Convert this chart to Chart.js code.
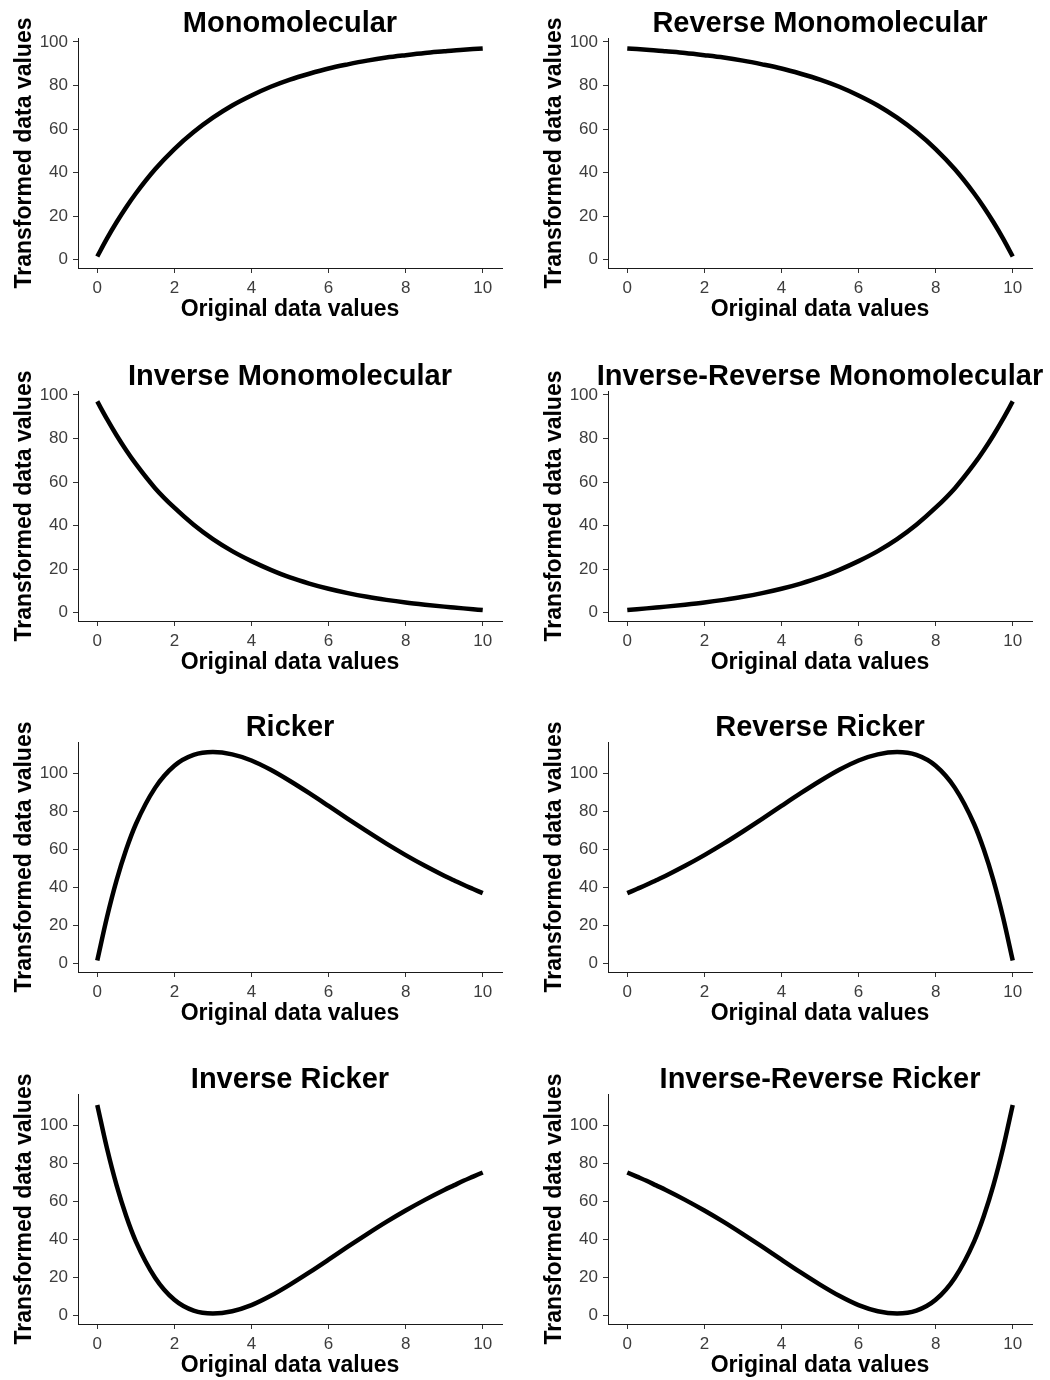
<!DOCTYPE html>
<html><head><meta charset="utf-8">
<script src="https://cdn.jsdelivr.net/npm/chart.js@4.4.1/dist/chart.umd.min.js"></script>
<style>
html,body{margin:0;padding:0;background:#fff;}
#wrap{position:relative;width:1050px;height:1380px;overflow:hidden;background:#fff;}
canvas{position:absolute;}
</style></head><body><div id="wrap"></div>
<script>
// ---- data ----
const xValues = [0,0.25,0.5,0.75,1,1.5,2,2.5,3,3.5,4,4.5,5,5.5,6,6.5,7,7.5,8,8.5,9,9.25,9.5,9.75,10];
const monomolecular = [1.5,9.7,17.2,24.1,30.4,41.5,50.8,58.6,65.2,70.8,75.4,79.4,82.7,85.4,87.8,89.7,91.4,92.8,93.9,94.9,95.7,96.1,96.4,96.7,97.0];
const reverseMonomolecular = [97.0,96.7,96.4,96.1,95.7,94.9,93.9,92.8,91.4,89.7,87.8,85.4,82.7,79.4,75.4,70.8,65.2,58.6,50.8,41.5,30.4,24.1,17.2,9.7,1.5];
const inverseMonomolecular = [97.0,89.0,81.5,74.6,68.3,57.2,48.2,40.4,33.8,28.3,23.7,19.7,16.2,13.4,11.0,9.0,7.3,5.9,4.7,3.7,2.8,2.4,2.0,1.6,1.2];
const inverseReverseMonomolecular = [1.2,1.6,2.0,2.4,2.8,3.7,4.7,5.9,7.3,9.0,11.0,13.4,16.2,19.7,23.7,28.3,33.8,40.4,48.2,57.2,68.3,74.6,81.5,89.0,97.0];
const ricker = [1.5,24.1,43.6,59.8,73.1,92.2,103.8,109.5,111.0,109.8,106.6,101.7,95.8,89.4,82.7,75.9,69.3,62.9,56.9,51.3,46.1,43.7,41.3,39.1,36.9];
const reverseRicker = [36.9,39.1,41.3,43.7,46.1,51.3,56.9,62.9,69.3,75.9,82.7,89.4,95.8,101.7,106.6,109.8,111.0,109.5,103.8,92.2,73.1,59.8,43.6,24.1,1.5];
const inverseRicker = [110.5,87.9,68.4,52.2,38.9,19.8,8.2,2.5,1.0,2.2,5.4,10.3,16.2,22.6,29.3,36.1,42.7,49.1,55.1,60.7,65.9,68.3,70.7,72.9,75.1];
const inverseReverseRicker = [75.1,72.9,70.7,68.3,65.9,60.7,55.1,49.1,42.7,36.1,29.3,22.6,16.2,10.3,5.4,2.2,1.0,2.5,8.2,19.8,38.9,52.2,68.4,87.9,110.5];

const panelTitles = ['Monomolecular','Reverse Monomolecular','Inverse Monomolecular','Inverse-Reverse Monomolecular','Ricker','Reverse Ricker','Inverse Ricker','Inverse-Reverse Ricker'];
const panelSeries = [monomolecular, reverseMonomolecular, inverseMonomolecular, inverseReverseMonomolecular, ricker, reverseRicker, inverseRicker, inverseReverseRicker];
const xTicks = [0,2,4,6,8,10];
const yTicks = [0,20,40,60,80,100];
const xAxisTitle = 'Original data values';
const yAxisTitle = 'Transformed data values';
const xRange = [-0.5, 10.5];
const yRangeMono = [-3.8, 101.8];
const yRangeRicker = [-4.5, 116.3];
const panelRanges = [yRangeMono, yRangeMono, yRangeMono, yRangeMono, yRangeRicker, yRangeRicker, yRangeRicker, yRangeRicker];

// ---- layout ----
const colLeft = [0, 530];
const rowTop = [0, 353, 704, 1056];
const FONT = '"Liberation Sans", Arial, Helvetica, sans-serif';

const titlesPlugin = {
  id: 'panelTitles',
  afterDraw(chart, args, opts) {
    const {ctx, chartArea: a} = chart;
    const cx = (a.left + a.right) / 2;
    ctx.save();
    ctx.fillStyle = '#000';
    ctx.textAlign = 'center';
    ctx.textBaseline = 'alphabetic';
    ctx.font = 'bold 29px ' + FONT;
    ctx.fillText(opts.title, cx, 32);
    ctx.font = 'bold 23px ' + FONT;
    ctx.fillText(opts.xTitle, cx, a.bottom + 48);
    ctx.translate(31, (a.top + a.bottom) / 2);
    ctx.rotate(-Math.PI / 2);
    ctx.fillText(opts.yTitle, 0, 0);
    ctx.restore();
  }
};

const wrap = document.getElementById('wrap');
panelTitles.forEach((title, i) => {
  const cv = document.createElement('canvas');
  cv.width = 520; cv.height = 324;
  cv.style.left = colLeft[i % 2] + 'px';
  cv.style.top = rowTop[Math.floor(i / 2)] + 'px';
  cv.style.width = '520px'; cv.style.height = '324px';
  wrap.appendChild(cv);
  const ys = panelSeries[i];
  const range = panelRanges[i];
  const axisCommon = {
    type: 'linear',
    grid: {display: true, drawOnChartArea: false, drawTicks: true, tickLength: 5, color: '#333333', lineWidth: 1},
    border: {display: true, color: '#1a1a1a', width: 1},
    ticks: {color: '#3d3d3d', font: {family: FONT, size: 17}, padding: 5, maxRotation: 0, autoSkip: false}
  };
  new Chart(cv, {
    type: 'line',
    data: {
      datasets: [{
        data: xValues.map((x, k) => ({x: x, y: ys[k]})),
        borderColor: '#000', borderWidth: 4.5, pointRadius: 0, pointHoverRadius: 0,
        cubicInterpolationMode: 'monotone', fill: false, borderCapStyle: 'butt'
      }]
    },
    options: {
      responsive: false, animation: false, devicePixelRatio: 1,
      layout: {padding: {left: 0, top: 38, right: 18, bottom: 0}},
      plugins: {
        legend: {display: false}, tooltip: {enabled: false}, title: {display: false},
        panelTitles: {title: title, xTitle: xAxisTitle, yTitle: yAxisTitle}
      },
      scales: {
        x: Object.assign({}, axisCommon, {
          min: xRange[0], max: xRange[1],
          afterBuildTicks: s => { s.ticks = xTicks.map(v => ({value: v})); },
          afterFit: s => { s.height = 56; }
        }),
        y: Object.assign({}, axisCommon, {
          min: range[0], max: range[1],
          afterBuildTicks: s => { s.ticks = yTicks.map(v => ({value: v})); },
          afterFit: s => { s.width = 78; }
        })
      }
    },
    plugins: [titlesPlugin]
  });
});
</script></body></html>
